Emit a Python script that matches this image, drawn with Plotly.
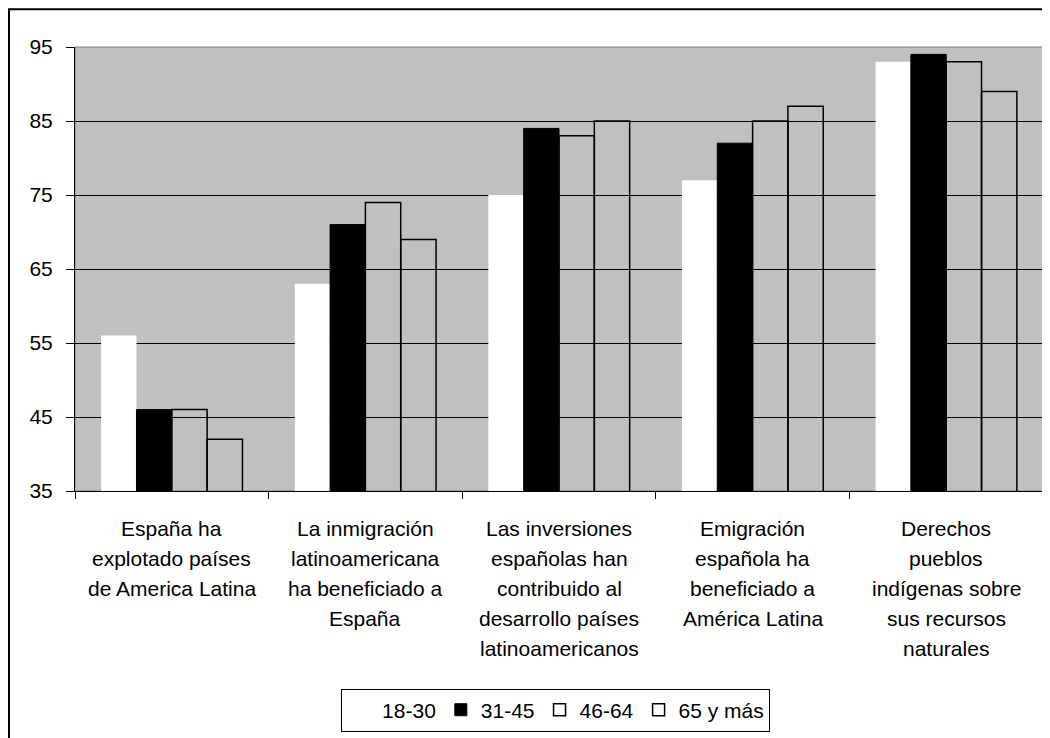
import plotly.graph_objects as go

categories = [
    "España ha<br>explotado países<br>de America Latina",
    "La inmigración<br>latinoamericana<br>ha beneficiado a<br>España",
    "Las inversiones<br>españolas han<br>contribuido al<br>desarrollo países<br>latinoamericanos",
    "Emigración<br>española ha<br>beneficiado a<br>América Latina",
    "Derechos<br>pueblos<br>indígenas sobre<br>sus recursos<br>naturales",
]
series_names = ["18-30", "31-45", "46-64", "65 y más"]
v_18_30 = [56, 63, 75, 77, 93]
v_31_45 = [46, 71, 84, 82, 94]
v_46_64 = [46, 74, 83, 85, 93]
v_65 = [42, 69, 85, 87, 89]
y_ticks = [35, 45, 55, 65, 75, 85, 95]

FONT = "Liberation Sans, Arial, sans-serif"
fig = go.Figure()
styles = [
    dict(color="white", line=dict(width=0)),
    dict(color="black", line=dict(color="black", width=1)),
    dict(color="rgba(0,0,0,0)", line=dict(color="black", width=1.5)),
    dict(color="rgba(0,0,0,0)", line=dict(color="black", width=1.5)),
]
for name, vals, st in zip(series_names, [v_18_30, v_31_45, v_46_64, v_65], styles):
    fig.add_trace(go.Bar(x=categories, y=vals, name=name, marker=st))

annotations = []
for cat in categories:
    for i, line in enumerate(cat.split("<br>")):
        annotations.append(dict(
            x=cat, xref="x", y=0, yref="paper", yanchor="top", xanchor="center",
            text=line, showarrow=False, yshift=-(24 + 30 * i),
            font=dict(family=FONT, size=21, color="black"),
        ))

# page has an 8px body margin; figure is laid out to compensate
W, H = 1042, 730
PL, PT, PW, PH = 67, 39, 968, 448
shapes = [
    dict(type="rect", xref="paper", yref="paper", x0=0, x1=1, y0=0, y1=1,
         line=dict(color="#808080", width=1), layer="between"),
    dict(type="rect", xref="paper", yref="paper", x0=-(PL - 1) / PW, x1=1.05, y0=-0.7,
         y1=1 + (PT - 1) / PH, line=dict(color="black", width=2), layer="above"),
]

fig.update_layout(
    width=W, height=H,
    margin=dict(l=PL, r=W - PL - PW, t=PT, b=H - PT - PH),
    paper_bgcolor="white", plot_bgcolor="#C0C0C0",
    barmode="group", bargap=0.27, bargroupgap=0,
    font=dict(family=FONT, size=21, color="black"),
    showlegend=True,
    legend=dict(orientation="h", x=0.4965, xanchor="center", y=-0.445, yanchor="top",
                bordercolor="black", borderwidth=1, bgcolor="white",
                font=dict(family=FONT, size=21), traceorder="normal"),
    annotations=annotations,
    shapes=shapes,
)
fig.update_xaxes(showticklabels=False, showline=True, linecolor="black", linewidth=1,
                 ticks="outside", tickson="boundaries", ticklen=7, tickcolor="black",
                 showgrid=False)
fig.update_yaxes(range=[35, 95], tickvals=y_ticks, showline=True, linecolor="black", linewidth=1,
                 ticks="outside", ticklen=8, tickcolor="black", showgrid=True,
                 gridcolor="black", gridwidth=1, zeroline=False,
                 tickfont=dict(family=FONT, size=21), ticklabelstandoff=9)

fig.write_html("out.html")
